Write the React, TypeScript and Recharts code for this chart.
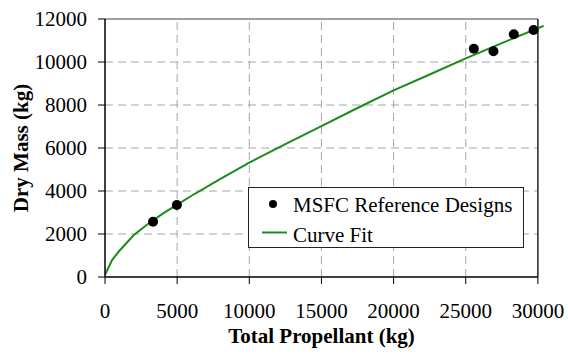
import {
  ComposedChart, Line, Scatter, XAxis, YAxis, ReferenceLine, Legend,
} from 'recharts';

// MSFC reference design points (total propellant kg, dry mass kg)
const designPropellant = [3330, 4980, 25560, 26920, 28330, 29700];
const designDryMass = [2570, 3350, 10620, 10500, 11290, 11490];

// curve fit
const fitPropellant = [0, 500, 1000, 2000, 3000, 4000, 5000, 6000, 8000, 10000, 12500, 15000, 17500, 20000, 22500, 25000, 27500, 30000, 30400];
const fitDryMass = [100, 800, 1220, 1950, 2480, 2950, 3370, 3780, 4560, 5320, 6180, 7020, 7860, 8680, 9420, 10170, 10880, 11570, 11680];

const xTicks = [0, 5000, 10000, 15000, 20000, 25000, 30000];
const yTicks = [0, 2000, 4000, 6000, 8000, 10000, 12000];

const designs = designPropellant.map((x, i) => ({ x, y: designDryMass[i] }));
const curve = fitPropellant.map((x, i) => ({ x, y: fitDryMass[i] }));

const FONT = 'Liberation Serif, Times New Roman, DejaVu Serif, serif';
const GRID = '#a6a6a6';

const Dot = (props: any) => <circle cx={props.cx} cy={props.cy} r={5} fill="#000" />;

const LegendBox = () => (
  <svg width={276} height={61} style={{ display: 'block' }}>
    <rect x={0.5} y={0.5} width={275} height={60} fill="#fff" stroke="#222" />
    <circle cx={25} cy={17} r={4} fill="#000" />
    <text x={45} y={25} style={{ fontFamily: FONT }} fontSize={21} fill="#000">MSFC Reference Designs</text>
    <line x1={14} x2={39} y1={45.5} y2={45.5} stroke="#1a8c1a" strokeWidth={2} />
    <text x={45} y={55} style={{ fontFamily: FONT }} fontSize={21} fill="#000">Curve Fit</text>
  </svg>
);

const App = () => {
  return (
    <div style={{ width: 568, height: 356, background: '#fff', fontFamily: FONT }}>
      <style>{'body{margin:0}'}</style>
      <ComposedChart
        width={568}
        height={356}
        margin={{ top: 19, right: 20, bottom: 0, left: 0 }}
        style={{ fontFamily: FONT }}
      >
        <XAxis
          dataKey="x"
          type="number"
          domain={[0, 30700]}
          ticks={xTicks}
          allowDataOverflow
          height={79}
          axisLine={false}
          tickLine={{ stroke: '#000' }}
          tickSize={7}
          tickMargin={19}
          tick={{ fill: '#000', fontSize: 21, style: { fontFamily: FONT } }}
          label={{
            content: () => (
              <text x={321.5} y={343} textAnchor="middle" style={{ fontFamily: FONT }} fontSize={21} fontWeight="bold" fill="#000">
                Total Propellant (kg)
              </text>
            ),
          }}
        />
        <YAxis
          dataKey="y"
          type="number"
          domain={[0, 12000]}
          ticks={yTicks}
          width={105}
          axisLine={{ stroke: '#000', strokeWidth: 1.5 }}
          tickLine={{ stroke: '#000' }}
          tickSize={7}
          tickMargin={11}
          tick={{ fill: '#000', fontSize: 21, style: { fontFamily: FONT } }}
          label={{
            content: () => (
              <text x={28} y={148} transform="rotate(-90 28 148)" textAnchor="middle" style={{ fontFamily: FONT }} fontSize={21} fontWeight="bold" fill="#000">
                Dry Mass (kg)
              </text>
            ),
          }}
        />
        {/* dashed grid, kept inside the 0-30000 frame */}
        {yTicks.slice(1, -1).map((y) => (
          <ReferenceLine key={`h${y}`} segment={[{ x: 0, y }, { x: 30000, y }]} stroke={GRID} strokeDasharray="8 5" ifOverflow="visible" />
        ))}
        {xTicks.slice(1, -1).map((x) => (
          <ReferenceLine key={`v${x}`} segment={[{ x, y: 0 }, { x, y: 12000 }]} stroke={GRID} strokeDasharray="8 5" ifOverflow="visible" />
        ))}
        <ReferenceLine segment={[{ x: 0, y: 12000 }, { x: 30000, y: 12000 }]} stroke="#808080" strokeWidth={1.5} ifOverflow="visible" />
        <ReferenceLine segment={[{ x: 30000, y: 0 }, { x: 30000, y: 12000 }]} stroke="#222" strokeWidth={1.5} ifOverflow="visible" />
        <ReferenceLine segment={[{ x: 0, y: 0 }, { x: 30000, y: 0 }]} stroke="#000" strokeWidth={1.5} ifOverflow="visible" />
        <Line
          data={curve}
          dataKey="y"
          type="linear"
          stroke="#1a8c1a"
          strokeWidth={2}
          dot={false}
          activeDot={false}
          isAnimationActive={false}
        />
        <Scatter data={designs} dataKey="y" fill="#000" shape={Dot} isAnimationActive={false} />
        <Legend
          layout="vertical"
          align="center"
          verticalAlign="middle"
          content={() => <LegendBox />}
          wrapperStyle={{ left: 248, top: 187, width: 276, height: 61 }}
        />
      </ComposedChart>
    </div>
  );
};

export default App;
